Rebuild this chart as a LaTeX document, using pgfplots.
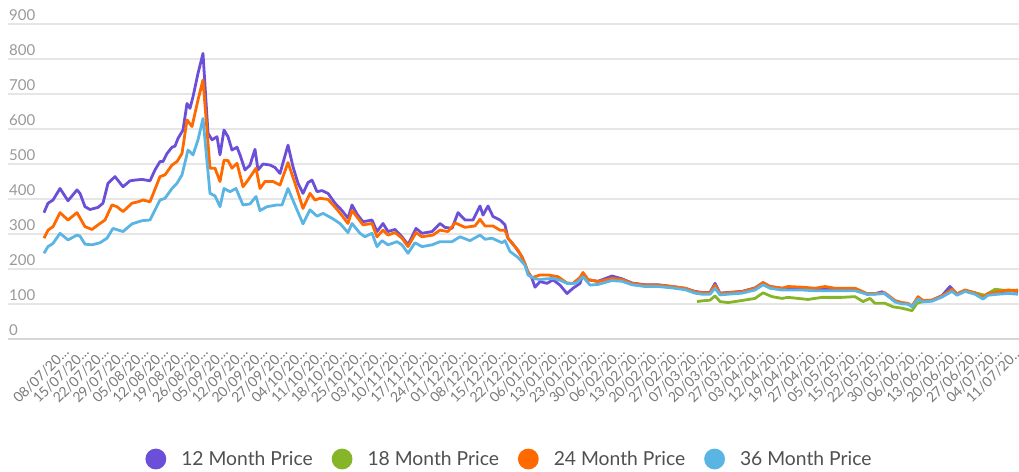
\documentclass[border=0pt]{standalone}
\usepackage{pgfplots}
\pgfplotsset{compat=1.18}
\usepackage{fontspec}
\setmainfont{Lato}
\definecolor{c12}{HTML}{6B4FD9}
\definecolor{c18}{HTML}{86B52A}
\definecolor{c24}{HTML}{FF6A00}
\definecolor{c36}{HTML}{5AB4E4}
\definecolor{gridc}{HTML}{E6E6E6}
\definecolor{basec}{HTML}{D6D6D6}
\definecolor{ytxt}{HTML}{999999}
\definecolor{xtxt}{HTML}{7A7A7A}
\definecolor{legtxt}{HTML}{505050}
\begin{document}
\begin{tikzpicture}
\begin{axis}[
  name=ax,
  scale only axis,
  width=1011pt, height=315pt,
  xmin=8, xmax=1019, ymin=0, ymax=900,
  axis lines*=left,
  x axis line style={draw=basec, line width=1.5pt},
  y axis line style={draw=none},
  major tick length=0pt,
  ymajorgrids, grid style={gridc, line width=1.5pt},
  /pgf/number format/assume math mode=true,
  ytick={0,100,...,900},
  yticklabel style={anchor=base west, inner sep=0pt, xshift=1pt, yshift=4pt, font=\fontsize{15}{15}\selectfont, text=ytxt},
  xtick={56,75.85,95.7,115.55,135.4,155.25,175.1,194.95,214.8,234.65,254.5,274.35,294.2,314.05,333.9,353.75,373.6,393.45,413.3,433.15,453,472.85,492.7,512.55,532.4,552.25,572.1,591.95,611.8,631.65,651.5,671.35,691.2,711.05,730.9,750.75,770.6,790.45,810.3,830.15,850,869.85,889.7,909.55,929.4,949.25,969.1,988.95,1008.8},
  xticklabels={08/07/20…,15/07/20…,22/07/20…,29/07/20…,05/08/20…,12/08/20…,19/08/20…,26/08/20…,05/09/20…,12/09/20…,20/09/20…,27/09/20…,04/10/20…,11/10/20…,18/10/20…,25/10/20…,03/11/20…,10/11/20…,17/11/20…,24/11/20…,01/12/20…,08/12/20…,15/12/20…,22/12/20…,06/01/20…,13/01/20…,23/01/20…,30/01/20…,06/02/20…,13/02/20…,20/02/20…,27/02/20…,07/03/20…,20/03/20…,27/03/20…,03/04/20…,12/04/20…,19/04/20…,27/04/20…,05/05/20…,15/05/20…,22/05/20…,30/05/20…,06/06/20…,13/06/20…,20/06/20…,27/06/20…,04/07/20…,11/07/20…},
  xticklabel style={rotate=45, anchor=east, inner sep=0pt, yshift=-15pt, font=\fontsize{14}{14}\selectfont, text=xtxt},
  every axis plot/.append style={line width=2.8pt, line join=round, no marks},
  legend columns=4,
  legend style={at={(0.496,-0.381)}, anchor=center, draw=none, fill=none,
    font=\fontsize{19.3}{19.3}\selectfont, text=legtxt,
    /tikz/every odd column/.append style={column sep=13pt},
    /tikz/every even column/.append style={column sep=17pt}},
  legend image code/.code={\fill[#1] (9pt,0pt) circle (9pt);},
]
\addplot[c12] coordinates {
(44,361)(48,388)(53,397)(60,430)(68,395)(77,426)(80,416)(85,378)(90,370)(98,376)(103,388)(108,445)(115,464)(123,435)(130,452)(135,454)(142,456)(150,452)(155,483)(160,507)(163,507)(167,530)(172,548)(175,551)(178,573)(183,597)(187,673)(190,659)(193,692)(198,759)(203,816)(208,588)(212,569)(217,578)(220,526)(224,597)(228,578)(232,540)(237,548)(240,526)(245,483)(250,497)(255,542)(258,483)(263,500)(270,497)(275,490)(280,473)(288,554)(293,492)(298,445)(303,416)(308,447)(312,454)(317,421)(322,424)(328,416)(335,388)(342,367)(348,345)(352,383)(357,357)(363,335)(372,340)(377,307)(383,330)(388,307)(395,313)(402,292)(408,269)(416,316)(422,302)(432,307)(440,330)(445,319)(452,316)(458,361)(465,340)(473,340)(480,380)(483,354)(488,380)(493,350)(500,340)(505,326)(508,288)(515,264)(522,235)(527,197)(532,173)(535,148)(540,164)(547,159)(553,169)(560,154)(567,130)(573,145)(580,159)(583,186)(588,169)(598,165)(612,180)(622,172)(632,160)(645,155)(658,155)(672,150)(685,145)(695,136)(702,133)(710,133)(715,159)(720,131)(728,133)(742,136)(755,146)(763,161)(770,150)(782,145)(802,146)(815,144)(835,144)(855,144)(867,128)(875,129)(882,135)(895,108)(902,103)(908,100)(912,93)(918,118)(923,109)(932,111)(942,124)(950,150)(957,128)(965,139)(975,131)(983,118)(988,129)(998,133)(1008,138)(1018,136)
};
\addplot[c18] coordinates {
(697,107)(702,109)(710,111)(715,123)(720,107)(728,104)(742,110)(755,116)(763,132)(772,121)(782,116)(788,119)(808,113)(822,119)(842,119)(855,121)(863,107)(870,116)(875,102)(885,102)(893,92)(902,88)(912,81)(917,102)(923,107)(932,110)(942,121)(952,140)(957,129)(965,138)(975,132)(985,125)(995,142)(1008,138)(1018,140)
};
\addplot[c24] coordinates {
(44,288)(48,311)(53,321)(60,361)(68,340)(77,361)(85,321)(92,313)(98,326)(105,340)(112,383)(117,378)(123,364)(132,388)(138,392)(143,397)(150,392)(160,464)(165,469)(172,497)(177,507)(182,530)(187,626)(192,607)(198,683)(203,740)(210,488)(215,488)(220,450)(224,511)(228,510)(232,488)(237,502)(243,435)(248,454)(256,488)(260,430)(265,450)(273,450)(280,440)(288,504)(295,445)(303,373)(310,416)(315,397)(320,402)(328,399)(338,367)(348,330)(352,367)(358,345)(363,326)(372,330)(377,292)(383,311)(388,297)(395,304)(402,288)(408,264)(416,304)(422,292)(433,297)(440,311)(448,307)(455,332)(465,319)(475,323)(480,342)(485,323)(493,323)(500,311)(505,311)(508,288)(518,254)(525,216)(528,190)(532,175)(540,183)(548,183)(558,178)(567,160)(573,159)(580,176)(583,190)(588,170)(598,164)(612,173)(622,170)(632,159)(645,154)(658,154)(672,150)(685,145)(695,135)(702,132)(710,132)(715,154)(720,130)(728,132)(742,135)(755,145)(763,161)(770,150)(782,145)(788,150)(802,148)(815,145)(825,150)(835,145)(855,145)(867,130)(875,130)(885,132)(895,110)(902,104)(908,102)(912,94)(918,121)(923,110)(932,111)(942,123)(952,142)(957,129)(965,140)(975,132)(983,119)(988,130)(998,135)(1008,140)(1018,138)
};
\addplot[c36] coordinates {
(44,245)(48,264)(53,273)(60,302)(68,283)(77,297)(80,294)(85,271)(92,269)(100,275)(107,288)(113,316)(123,307)(132,329)(142,338)(150,340)(160,397)(165,402)(172,430)(177,445)(182,469)(188,540)(193,526)(198,569)(203,630)(210,416)(215,409)(220,378)(224,430)(230,421)(236,430)(243,383)(250,386)(256,407)(260,367)(267,378)(277,383)(282,383)(288,430)(297,369)(303,329)(310,369)(317,351)(323,359)(332,345)(340,330)(348,304)(352,330)(360,302)(365,292)(372,302)(377,264)(382,281)(388,269)(397,278)(402,269)(408,245)(415,275)(422,264)(432,269)(440,278)(452,278)(460,292)(470,281)(480,297)(485,285)(492,288)(502,275)(505,281)(510,250)(518,233)(525,211)(528,183)(535,172)(540,170)(547,172)(553,173)(560,168)(567,159)(573,158)(577,161)(583,178)(590,154)(598,156)(612,167)(622,165)(632,155)(645,150)(658,150)(672,146)(685,141)(695,131)(702,128)(710,128)(715,145)(720,126)(728,128)(742,131)(755,140)(763,155)(770,145)(782,140)(802,140)(815,138)(835,138)(855,138)(867,128)(875,128)(885,130)(895,106)(902,100)(908,100)(912,92)(918,115)(923,106)(932,108)(942,120)(952,136)(957,125)(965,136)(975,128)(983,114)(988,125)(998,128)(1008,130)(1018,128)
};
\legend{12 Month Price,18 Month Price,24 Month Price,36 Month Price}
\end{axis}
\pgfresetboundingbox
\path ([shift={(-8pt,-132pt)}]ax.south west) rectangle ([shift={(0pt,339pt)}]ax.south east);
\end{tikzpicture}
\end{document}
